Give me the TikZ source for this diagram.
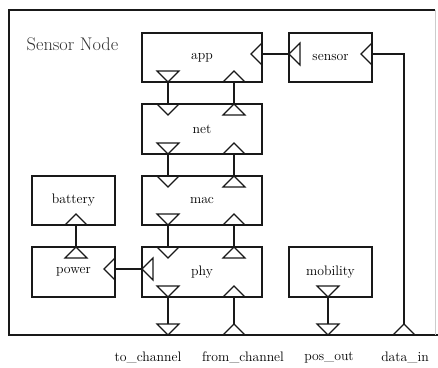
\documentclass[tikz,border=0pt]{standalone}
\newcommand\lblfont{\fontsize{13.8}{16}\selectfont}
\newcommand\titlefont{\fontsize{18.4}{22}\selectfont}
\tikzset{
  wire/.style={line width=1.1bp, draw=black!90},
  blk/.style={draw=black!90, line width=1.1bp, inner sep=0pt, font=\lblfont},
  smallbox/.style={blk, minimum width=83bp},
  bigbox/.style={blk, minimum width=120bp},
  lbl/.style={inner sep=0pt, font=\lblfont},
  % port triangles, placed at the midpoint of their base
  pics/tridn/.style={code={\draw[wire, line join=miter] (-11,0) -- (11,0) -- (0,11) -- cycle;}},
  pics/triup/.style={code={\draw[wire, line join=miter] (-11,0) -- (11,0) -- (0,-11) -- cycle;}},
  pics/trilf/.style={code={\draw[wire, line join=miter] (0,-11) -- (0,11) -- (-11,0) -- cycle;}},
}
\begin{document}
\begin{tikzpicture}[x=1bp, y=-1bp]
\useasboundingbox (0,0) rectangle (438,367);
\fill[white] (0,0) rectangle (438,367);

% enclosing model
\draw[wire] (435,10) -- (9,10) -- (9,335) -- (438,335);
\draw[line width=0.8bp, black!20] (435,10) -- (435,335);
\node[anchor=base west, inner sep=0pt, font=\titlefont, text=black!80] (title) at (26.5,50.5) {Sensor Node};

% blocks
\node[bigbox, minimum height=49bp] (app) at (202,57.5) {app};
\node[bigbox, minimum height=50bp] (net) at (202,129) {net};
\node[bigbox, minimum height=49bp] (mac) at (202,200.5) {mac};
\node[bigbox, minimum height=50bp] (phy) at (202,272) {phy};
\node[smallbox, minimum height=49bp] (sensor) at (330.5,57.5) {sensor};
\node[smallbox, minimum height=49bp] (battery) at (73.5,200.5) {battery};
\node[smallbox, minimum height=50bp] (power) at (73.5,272) {power};
\node[smallbox, minimum height=50bp] (mobility) at (330.5,272) {mobility};

% port triangles
\pic at (168,71) {tridn};  \pic at (234,82) {triup};    % app
\pic at (168,104) {tridn}; \pic at (234,115) {triup};   % net top
\pic at (168,143) {tridn}; \pic at (234,154) {triup};   % net bottom
\pic at (168,176) {tridn}; \pic at (234,187) {triup};   % mac top
\pic at (168,214) {tridn}; \pic at (234,225) {triup};   % mac bottom
\pic at (168,247) {tridn}; \pic at (234,258) {triup};   % phy top
\pic at (168,286) {tridn}; \pic at (234,297) {triup};   % phy bottom
\pic at (168,324) {tridn}; \pic at (234,335) {triup};   % channel ports
\pic at (328,286) {tridn}; \pic at (328,324) {tridn};   % mobility, pos_out
\pic at (404,335) {triup};                              % data_in
\pic at (262,54) {trilf};  \pic at (300,54) {trilf};    % app / sensor
\pic at (372,54) {trilf};                               % sensor input
\pic at (153,269) {trilf}; \pic at (115,269) {trilf};   % phy / power
\pic at (76,225) {triup};  \pic at (76,258) {triup};    % battery / power

% port coordinates
\coordinate (appD) at (168,82);   \coordinate (appU) at (234,82);
\coordinate (netTD) at (168,104); \coordinate (netTU) at (234,104);
\coordinate (netBD) at (168,154); \coordinate (netBU) at (234,154);
\coordinate (macTD) at (168,176); \coordinate (macTU) at (234,176);
\coordinate (macBD) at (168,225); \coordinate (macBU) at (234,225);
\coordinate (phyTD) at (168,247); \coordinate (phyTU) at (234,247);
\coordinate (phyBD) at (168,297); \coordinate (phyBU) at (234,297);
\coordinate (toch) at (168,324);  \coordinate (fromch) at (234,324);
\coordinate (mobD) at (328,297);  \coordinate (posout) at (328,324);
\coordinate (datain) at (404,324);
\coordinate (appR) at (262,54);   \coordinate (senL) at (289,54);
\coordinate (senR) at (372,54);   \coordinate (bend) at (404,54);
\coordinate (phyL) at (142,269);  \coordinate (powR) at (115,269);
\coordinate (batB) at (76,225);   \coordinate (powT) at (76,247);

% connections
\draw[wire] (appD) -- (netTD);
\draw[wire] (netTU) -- (appU);
\draw[wire] (netBD) -- (macTD);
\draw[wire] (macTU) -- (netBU);
\draw[wire] (macBD) -- (phyTD);
\draw[wire] (phyTU) -- (macBU);
\draw[wire] (phyBD) -- (toch);
\draw[wire] (fromch) -- (phyBU);
\draw[wire] (mobD) -- (posout);
\draw[wire] (senL) -- (appR);
\draw[wire] (datain) -- (bend) -- (senR);
\draw[wire] (phyL) -- (powR);
\draw[wire] (powT) -- (batB);

% external port names
\node[lbl] (ltoch) at (148,358) {to\_channel};
\node[lbl] (lfromch) at (243,358) {from\_channel};
\node[lbl] (lpos) at (329,358) {pos\_out};
\node[lbl] (ldata) at (405,358) {data\_in};
\end{tikzpicture}
\end{document}
